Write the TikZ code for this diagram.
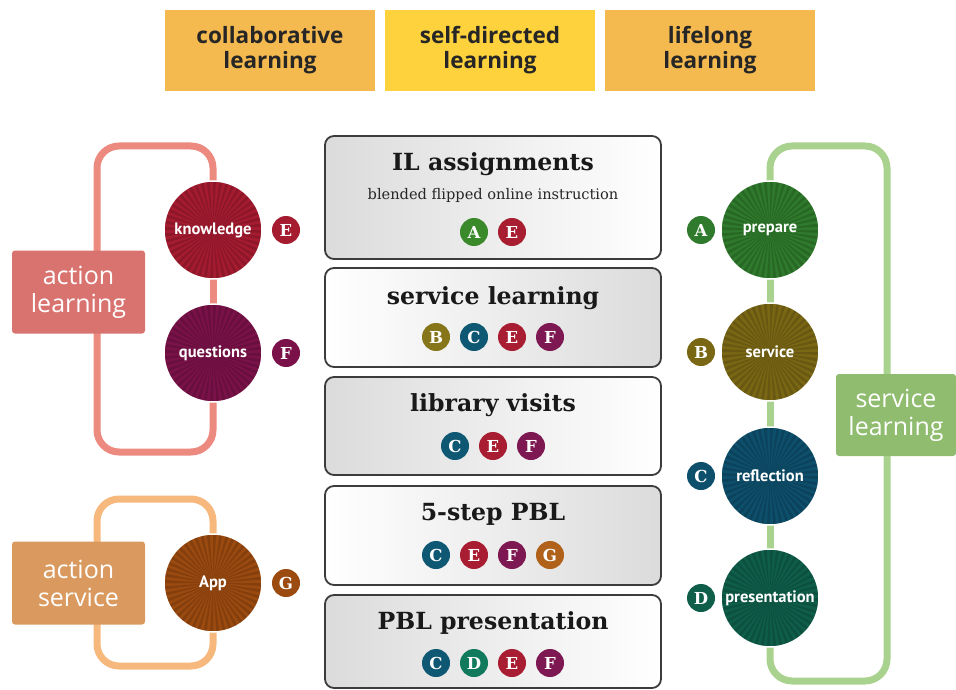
\documentclass[tikz,border=0pt]{standalone}
\usepackage{fontspec}
\newfontfamily\sansf{PT Sans}
\newfontfamily\opensf{Open Sans}
\newfontfamily\serf{DejaVu Serif}
\usetikzlibrary{backgrounds}
\definecolor{topor}{HTML}{F5BA4F}
\definecolor{topyel}{HTML}{FDD23C}
\definecolor{boxline}{HTML}{3C3C3C}
\definecolor{salline}{HTML}{EC8A80}
\definecolor{salbox}{HTML}{D9736F}
\definecolor{orline}{HTML}{F6B87C}
\definecolor{orbox}{HTML}{DA9A5F}
\definecolor{grline}{HTML}{AAD28F}
\definecolor{grbox}{HTML}{8FBC6E}
\definecolor{cRed}{HTML}{A51B30}
\definecolor{cMar}{HTML}{7A1249}
\definecolor{cBrn}{HTML}{9B4A10}
\definecolor{cGrn}{HTML}{2F7A2C}
\definecolor{cOli}{HTML}{7A6714}
\definecolor{cTea}{HTML}{0E4F6C}
\definecolor{cDgr}{HTML}{0F5E4A}
\definecolor{bA}{HTML}{3A8A2B}
\definecolor{bB}{HTML}{867519}
\definecolor{bC}{HTML}{0E5873}
\definecolor{bD}{HTML}{127A5C}
\definecolor{bE}{HTML}{A81D32}
\definecolor{bF}{HTML}{7E1852}
\definecolor{bG}{HTML}{B0621A}
\begin{document}
\begin{tikzpicture}[x=1pt,y=-1pt,
  topbox/.style={fill=#1,minimum width=210pt,minimum height=81pt,inner sep=0pt,align=center,text=black!85,font=\opensf\bfseries\fontsize{22.5}{25}\selectfont},
  cbox/.style={draw=boxline,line width=1.8pt,rounded corners=9pt,minimum width=336pt,inner sep=0pt},
  ttl/.style={inner sep=0pt,text=black!90,font=\serf\bfseries\fontsize{23.6}{26}\selectfont},
  sub/.style={inner sep=0pt,text=black!85,font=\serf\fontsize{14.6}{17}\selectfont},
  badge/.style={circle,fill=#1,minimum size=28pt,inner sep=0pt,text=white,font=\serf\bfseries\fontsize{16.5}{16.5}\selectfont},
  big/.style={circle,fill=#1,draw=white,line width=1.5pt,minimum size=98pt,inner sep=0pt,text=white,
    font=\sansf\bfseries\fontsize{16.5}{16.5}\selectfont,
    path picture={\foreach \a in {0,7.5,...,352.5}{\fill[black,opacity=.14] (path picture bounding box.center) -- +(\a:52) -- +(\a+3.6:52) -- cycle;}}},
  sidebox/.style={fill=#1,rounded corners=3pt,inner sep=0pt,text=white,align=center,font=\opensf\fontsize{25}{28}\selectfont},
  bracket/.style={draw=#1,line width=7pt,rounded corners=22pt}
]
\useasboundingbox (0,0) rectangle (956,690);

% top boxes
\node[topbox=topor] (collab) at (270,50.5) {collaborative\\learning};
\node[topbox=topyel] (selfdir) at (490,50.5) {self-directed\\learning};
\node[topbox=topor] (lifelong) at (710,50.5) {lifelong\\learning};

% centre boxes
\node[cbox,left color=black!14,right color=white,minimum height=123pt] (b1) at (493,197.5) {};
\node[cbox,left color=white,right color=black!14,minimum height=99pt] (b2) at (493,317.5) {};
\node[cbox,left color=black!14,right color=white,minimum height=98pt] (b3) at (493,426) {};
\node[cbox,left color=white,right color=black!14,minimum height=99pt] (b4) at (493,535.5) {};
\node[cbox,left color=black!14,right color=white,minimum height=93pt] (b5) at (493,641.5) {};

\node[ttl] (t1) at (493,164) {IL assignments};
\node[sub] (s1) at (493,195) {blended flipped online instruction};
\node[badge=bA] (b1A) at (474,232) {A};
\node[badge=bE] (b1E) at (512,232) {E};

\node[ttl] (t2) at (493,298) {service learning};
\node[badge=bB] (b2B) at (436,337) {B};
\node[badge=bC] (b2C) at (474,337) {C};
\node[badge=bE] (b2E) at (512,337) {E};
\node[badge=bF] (b2F) at (550,337) {F};

\node[ttl] (t3) at (493,405) {library visits};
\node[badge=bC] (b3C) at (455,446) {C};
\node[badge=bE] (b3E) at (493,446) {E};
\node[badge=bF] (b3F) at (531,446) {F};

\node[ttl] (t4) at (493,514) {5-step PBL};
\node[badge=bC] (b4C) at (436,555) {C};
\node[badge=bE] (b4E) at (474,555) {E};
\node[badge=bF] (b4F) at (512,555) {F};
\node[badge=bG] (b4G) at (550,555) {G};

\node[ttl] (t5) at (493,623) {PBL presentation};
\node[badge=bC] (b5C) at (436,663) {C};
\node[badge=bD] (b5D) at (474,663) {D};
\node[badge=bE] (b5E) at (512,663) {E};
\node[badge=bF] (b5F) at (550,663) {F};

% left: action learning
\node[sidebox=salbox,minimum width=133pt,minimum height=83pt] (al) at (78.5,292) {action\\learning};
\node[big=cRed] (know) at (213,230) {knowledge};
\node[big=cMar] (quest) at (213,353) {questions};
\node[badge=cRed] (kE) at (286,230) {E};
\node[badge=cMar] (qF) at (286,353) {F};

% left: action service
\node[sidebox=orbox,minimum width=133pt,minimum height=83pt] (as) at (78.5,583) {action\\service};
\node[big=cBrn] (app) at (213,583) {App};
\node[badge=cBrn] (aG) at (286,583) {G};

% right: service learning
\node[sidebox=grbox,minimum width=120pt,minimum height=82pt] (sl) at (896,415) {service\\learning};
\node[big=cGrn] (prep) at (770,230) {prepare};
\node[big=cOli] (serv) at (770,352) {service};
\node[big=cTea] (refl) at (770,476) {reflection};
\node[big=cDgr] (pres) at (770,598) {presentation};
\node[badge=cGrn] (pA) at (701,230) {A};
\node[badge=cOli] (sB) at (701,352) {B};
\node[badge=cTea] (rC) at (701,476) {C};
\node[badge=cDgr] (pD) at (701,598) {D};

\begin{scope}[on background layer]
\draw[bracket=salline] (know.center) -- (213,146) -- (97,146) -- (al.center -| 97,0) -- (97,452) -- (213,452) -- (quest.center);
\draw[bracket=salline] (know.center) -- (quest.center);
\draw[bracket=orline] (app.center) -- (213,499) -- (97,499) -- (as.center -| 97,0) -- (97,666) -- (213,666) -- (app.center);
\draw[bracket=grline] (prep.center) -- (770,146) -- (887,146) -- (sl.center -| 887,0) -- (887,681) -- (770,681) -- (pres.center);
\draw[bracket=grline] (prep.center) -- (serv.center) -- (refl.center) -- (pres.center);
\end{scope}
\end{tikzpicture}
\end{document}
